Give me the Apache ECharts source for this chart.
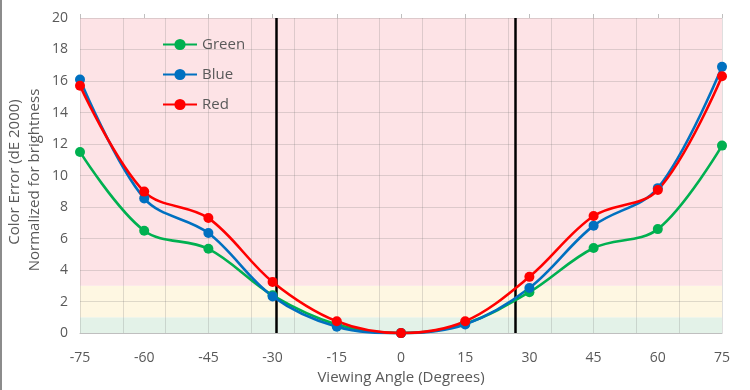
<!DOCTYPE html>
<html><head><meta charset="utf-8">
<script src="https://cdn.jsdelivr.net/npm/echarts@6/dist/echarts.min.js"></script>
<style>html,body{margin:0;padding:0;background:#fff}#c{width:750px;height:390px}</style>
</head><body><div id="c"></div>
<script>
const angles = [-75, -60, -45, -30, -15, 0, 15, 30, 45, 60, 75];
const green = [11.5, 6.5, 5.35, 2.4, 0.55, 0, 0.6, 2.6, 5.4, 6.6, 11.9];
const blue  = [16.1, 8.55, 6.35, 2.33, 0.4, 0, 0.55, 2.86, 6.82, 9.2, 16.9];
const red   = [15.7, 8.98, 7.3, 3.25, 0.75, 0, 0.75, 3.57, 7.43, 9.08, 16.3];
const vLines = [-29.2, 26.8];
const bands = [[0, 1, '#e3f2e8'], [1, 3, '#fef7e2'], [3, 20, '#fde3e6']];
const font = 'Open Sans';
const txt = '#595959';
const gridColor = 'rgba(110,110,110,0.22)';

const chart = echarts.init(document.getElementById('c'), null, {renderer: 'canvas'});
function pts(a) { return angles.map((x, i) => [x, a[i]]); }
function ser(name, color, data) {
  return {
    name, type: 'line', data: pts(data), smooth: 0.35,
    symbol: 'circle', symbolSize: 10,
    lineStyle: {color, width: 2.6}, itemStyle: {color},
    z: 5
  };
}
chart.setOption({
  animation: false,
  textStyle: {fontFamily: font},
  grid: {left: 80, right: 28, top: 18, bottom: 55},
  legend: {
    data: ['Green', 'Blue', 'Red'], orient: 'vertical', left: 162, top: 37, padding: 0,
    itemWidth: 34, itemHeight: 14, itemGap: 15,
    textStyle: {color: txt, fontSize: 15, fontFamily: font}
  },
  xAxis: [
    {type: 'value', min: -75, max: 75, interval: 15, position: 'bottom', z: 3,
     axisLine: {show: true, lineStyle: {color: '#bfbfbf', width: 1}},
     axisTick: {show: false}, splitLine: {show: false},
     axisLabel: {color: txt, fontSize: 14, margin: 18, fontFamily: font},
     name: 'Viewing Angle (Degrees)', nameLocation: 'middle', nameGap: 36,
     nameTextStyle: {color: txt, fontSize: 15, fontFamily: font}},
    {type: 'value', min: -75, max: 75, interval: 15, position: 'top', z: 3,
     axisLine: {show: false}, axisLabel: {show: false},
     axisTick: {show: true, length: 4, lineStyle: {color: '#bfbfbf'}}, splitLine: {show: false}},
    {type: 'value', min: 0, max: 150, interval: 10, position: 'bottom', z: 3,
     axisLine: {show: false}, axisLabel: {show: false}, axisTick: {show: false},
     splitLine: {show: true, lineStyle: {color: gridColor, width: 1}}}
  ],
  yAxis: {type: 'value', min: 0, max: 20, interval: 2, z: 3,
    axisLine: {show: false}, axisTick: {show: false},
    axisLabel: {color: txt, fontSize: 14, margin: 12, fontFamily: font},
    splitLine: {lineStyle: {color: gridColor, width: 1}}},
  graphic: [
    {type: 'text', x: 15, y: 172, rotation: Math.PI / 2,
     style: {text: 'Color Error (dE 2000)', fill: txt, font: '15px "Open Sans"', align: 'center', verticalAlign: 'middle'}},
    {type: 'text', x: 35, y: 180, rotation: Math.PI / 2,
     style: {text: 'Normalized for brightness', fill: txt, font: '15px "Open Sans"', align: 'center', verticalAlign: 'middle'}},
    {type: 'rect', shape: {x: 0, y: 0, width: 2, height: 390}, style: {fill: '#8c8c8c'}}
  ],
  series: [
    {type: 'line', data: [], silent: true, z: 0,
     markArea: {silent: true, data: bands.map(b => [{yAxis: b[0], itemStyle: {color: b[2]}}, {yAxis: b[1]}])}},
    {type: 'line', data: [], silent: true, z: 4,
     markLine: {silent: true, symbol: 'none', label: {show: false},
       lineStyle: {color: '#000', width: 2.5, type: 'solid'},
       data: vLines.map(v => ({xAxis: v}))}},
    ser('Green', '#00b050', green),
    ser('Blue', '#0070c0', blue),
    ser('Red', '#ff0000', red)
  ]
});
</script></body></html>
